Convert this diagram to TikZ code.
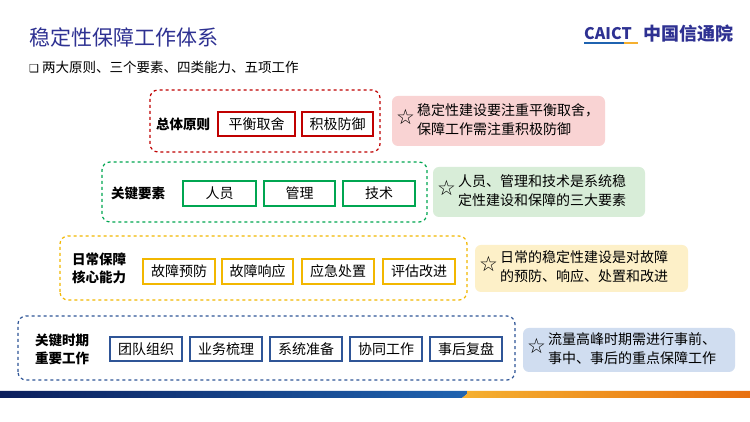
\documentclass[tikz,border=0pt]{standalone}
\usepackage{fontspec}
\setmainfont{Noto Sans CJK SC}
\newfontfamily\dvs{DejaVu Sans}
\usetikzlibrary{positioning}
\definecolor{ttl}{HTML}{2E3192}
\definecolor{cr}{HTML}{C00000}
\definecolor{cg}{HTML}{00A651}
\definecolor{cy}{HTML}{F2B700}
\definecolor{cn}{HTML}{2F5597}
\definecolor{fr}{HTML}{F9D3D3}
\definecolor{fg}{HTML}{D8EDD8}
\definecolor{fy}{HTML}{FDF0C8}
\definecolor{fb}{HTML}{D0DDF0}
\definecolor{bar1}{HTML}{0B1F5C}
\definecolor{bar2}{HTML}{1F63B0}
\definecolor{bar3}{HTML}{F5B030}
\definecolor{bar4}{HTML}{E8700F}
\tikzset{
 grp/.style={draw=#1, dashed, line width=1.2pt, rounded corners=8pt},
 itm/.style={draw=#1, line width=1.2pt, font=\fontsize{14}{16}\selectfont, inner sep=0pt},
 lbl/.style={font=\bfseries\fontsize{13.5}{18}\selectfont, align=left},
 call/.style={fill=#1, rounded corners=6pt},
 ctext/.style={font=\fontsize{14}{19}\selectfont, align=left, anchor=west, inner sep=0pt},
}
\newcommand\bx[6]{\node[itm=#1, minimum width=#4pt-#3pt, minimum height=#6pt-#5pt] (#2) at ({(#3+#4)/2*1pt},{(844-#5-#6)/2*1pt})}
\newcommand\str{{\dvs\fontsize{21}{21}\selectfont ☆}\hspace{2pt}}
\begin{document}
\begin{tikzpicture}[x=1pt,y=1pt]
\useasboundingbox (0,0) rectangle (750,422);
\fill[white] (0,0) rectangle (750,422);
% title
\node[anchor=west, text=ttl, font=\fontsize{21}{24}\selectfont, inner sep=0pt] (title) at (29,385) {稳定性保障工作体系};
\node[anchor=west, font=\fontsize{13.5}{16}\selectfont, inner sep=0pt] (sub) at (29,355) {{\dvs\fontsize{11}{12}\selectfont ❑} 两大原则、三个要素、四类能力、五项工作};
% logo
\node[anchor=west, text=ttl, font=\bfseries\fontsize{16}{18}\selectfont, inner sep=0pt] (caict) at (584,388) {CAICT};
\fill[bar2] (584,378) rectangle (624,379.5);
\fill[bar3] (624,378) rectangle (638,379.5);
\node[anchor=west, text=ttl, font=\bfseries\fontsize{18}{20}\selectfont, inner sep=0pt] (cn) at (643,388) {中国信通院};
% bottom bar
\shade[left color=bar1, right color=bar2] (0,24) -- (462,24) -- (467,28) -- (467,31) -- (0,31) -- cycle;
\shade[left color=bar3, right color=bar4] (462,24) -- (750,24) -- (750,31) -- (467,31) -- (467,28) -- cycle;
% row1
\draw[grp=cr] (150,270) rectangle (380,332);
\node[lbl] (l1) at (183,298) {总体原则};
\bx{cr}{a1}{218}{295}{112}{136}{平衡取舍};
\bx{cr}{a2}{302}{373}{112}{136}{积极防御};
\fill[call=fr] (392,276) rectangle (605,326);
\node[ctext] (c1) at (396,301) {\str\begin{tabular}{@{}l@{}}稳定性建设要注重平衡取舍，\\保障工作需注重积极防御\end{tabular}};
% row2
\draw[grp=cg] (102,200) rectangle (427,260);
\node[lbl] (l2) at (138,229) {关键要素};
\bx{cg}{b1}{183}{256}{181}{206}{人员};
\bx{cg}{b2}{264}{335}{181}{206}{管理};
\bx{cg}{b3}{343}{415}{181}{206}{技术};
\fill[call=fg] (433,205) rectangle (645,255);
\node[ctext] (c2) at (437,230) {\str\begin{tabular}{@{}l@{}}人员、管理和技术是系统稳\\定性建设和保障的三大要素\end{tabular}};
% row3
\draw[grp=cy] (60,122) rectangle (467,186);
\node[lbl] (l3) at (99,154) {日常保障\\核心能力};
\bx{cy}{d1}{143}{215}{259}{284}{故障预防};
\bx{cy}{d2}{222}{293}{259}{284}{故障响应};
\bx{cy}{d3}{302}{374}{259}{284}{应急处置};
\bx{cy}{d4}{383}{455}{259}{284}{评估改进};
\fill[call=fy] (475,130) rectangle (688,177);
\node[ctext] (c3) at (479,154) {\str\begin{tabular}{@{}l@{}}日常的稳定性建设是对故障\\的预防、响应、处置和改进\end{tabular}};
% row4
\draw[grp=cn] (18,42) rectangle (515,106);
\node[lbl] (l4) at (62,73) {关键时期\\重要工作};
\bx{cn}{e1}{110}{182}{337}{361}{团队组织};
\bx{cn}{e2}{190}{262}{337}{361}{业务梳理};
\bx{cn}{e3}{270}{342}{337}{361}{系统准备};
\bx{cn}{e4}{350}{422}{337}{361}{协同工作};
\bx{cn}{e5}{430}{502}{337}{361}{事后复盘};
\fill[call=fb] (523,50) rectangle (735,94);
\node[ctext] (c4) at (527,72) {\str\begin{tabular}{@{}l@{}}流量高峰时期需进行事前、\\事中、事后的重点保障工作\end{tabular}};
\end{tikzpicture}
\end{document}
